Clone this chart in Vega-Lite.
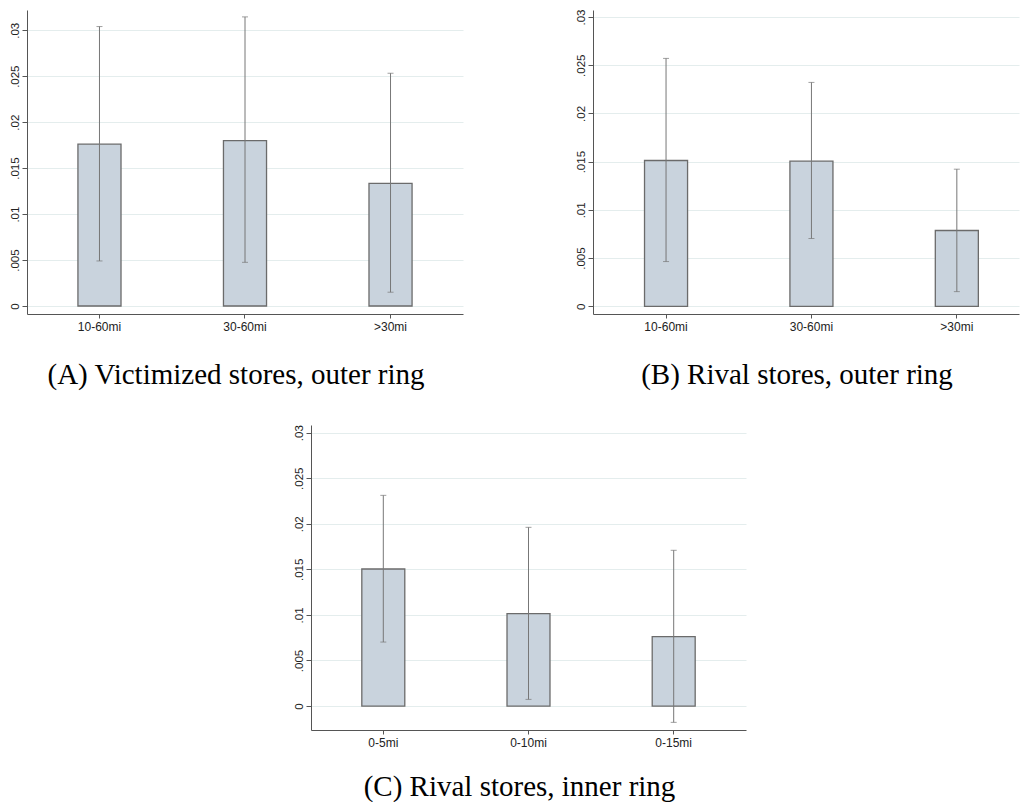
{
  "$schema": "https://vega.github.io/schema/vega-lite/v6.json",
  "padding": {"left": 9, "top": 9, "right": 1, "bottom": 0},
  "background": "white",
  "data": {"values": [
    {"panel": "A", "cat": "10-60mi", "est": 0.0176, "lo": 0.0049, "hi": 0.0304},
    {"panel": "A", "cat": "30-60mi", "est": 0.0180, "lo": 0.00475, "hi": 0.03145},
    {"panel": "A", "cat": ">30mi", "est": 0.01335, "lo": 0.0015, "hi": 0.02532},
    {"panel": "B", "cat": "10-60mi", "est": 0.01512, "lo": 0.00464, "hi": 0.02571},
    {"panel": "B", "cat": "30-60mi", "est": 0.01505, "lo": 0.00703, "hi": 0.02322},
    {"panel": "B", "cat": ">30mi", "est": 0.00786, "lo": 0.00152, "hi": 0.01422},
    {"panel": "C", "cat": "0-5mi", "est": 0.01504, "lo": 0.00702, "hi": 0.02312},
    {"panel": "C", "cat": "0-10mi", "est": 0.01013, "lo": 0.00073, "hi": 0.01961},
    {"panel": "C", "cat": "0-15mi", "est": 0.00761, "lo": -0.00179, "hi": 0.01709}
  ]},
  "config": {
    "view": {"stroke": null},
    "axis": {
      "labelFont": "Liberation Sans",
      "labelColor": "#222222",
      "domainColor": "#555555",
      "tickColor": "#555555",
      "title": null
    },
    "axisX": {"labelFontSize": 12, "tickSize": 4, "labelPadding": 3, "labelAngle": 0, "grid": false},
    "axisY": {
      "labelFontSize": 11.5, "tickSize": 5, "labelPadding": 2,
      "labelAngle": 270, "labelAlign": "center", "labelBaseline": "bottom",
      "grid": true, "gridColor": "#e4eded", "gridWidth": 1,
      "values": [0, 0.005, 0.01, 0.015, 0.02, 0.025, 0.03],
      "labelExpr": "datum.value == 0 ? '0' : slice(format(datum.value, '.3~f'), 1)"
    },
    "title": {"font": "Liberation Serif", "fontSize": 29, "fontWeight": "normal", "color": "#000000", "orient": "bottom", "anchor": "middle", "frame": "bounds", "offset": 29}
  },
  "vconcat": [
    {
      "hconcat": [
        {
          "title": {"text": "(A) Victimized stores, outer ring"},
          "width": 436, "height": 304,
          "transform": [{"filter": "datum.panel === 'A'"}],
          "encoding": {"x": {"field": "cat", "type": "nominal", "sort": null, "scale": {"paddingInner": 0.704, "paddingOuter": 0.35}}},
          "layer": [
            {"mark": {"type": "bar", "fill": "#c9d3dd", "stroke": "#6b6b6b", "strokeWidth": 1.3},
             "encoding": {"y": {"field": "est", "type": "quantitative", "scale": {"domain": [-0.00087, 0.0322], "nice": false, "zero": false}}}},
            {"mark": {"type": "rule", "color": "#777777", "strokeWidth": 1},
             "encoding": {"y": {"field": "lo", "type": "quantitative"}, "y2": {"field": "hi"}}},
            {"mark": {"type": "tick", "color": "#777777", "size": 6, "thickness": 1},
             "encoding": {"y": {"field": "lo", "type": "quantitative"}}},
            {"mark": {"type": "tick", "color": "#777777", "size": 6, "thickness": 1},
             "encoding": {"y": {"field": "hi", "type": "quantitative"}}}
          ]
        },
        {
          "title": {"text": "(B) Rival stores, outer ring"},
          "width": 426, "height": 304,
          "transform": [{"filter": "datum.panel === 'B'"}],
          "encoding": {"x": {"field": "cat", "type": "nominal", "sort": null, "scale": {"paddingInner": 0.704, "paddingOuter": 0.317, "align": 0.559}}},
          "layer": [
            {"mark": {"type": "bar", "fill": "#c9d3dd", "stroke": "#6b6b6b", "strokeWidth": 1.3},
             "encoding": {"y": {"field": "est", "type": "quantitative", "scale": {"domain": [-0.0008, 0.03073], "nice": false, "zero": false}}}},
            {"mark": {"type": "rule", "color": "#777777", "strokeWidth": 1},
             "encoding": {"y": {"field": "lo", "type": "quantitative"}, "y2": {"field": "hi"}}},
            {"mark": {"type": "tick", "color": "#777777", "size": 6, "thickness": 1},
             "encoding": {"y": {"field": "lo", "type": "quantitative"}}},
            {"mark": {"type": "tick", "color": "#777777", "size": 6, "thickness": 1},
             "encoding": {"y": {"field": "hi", "type": "quantitative"}}}
          ]
        }
      ],
      "spacing": 112
    },
    {
      "hconcat": [
        {
          "width": 256, "height": 305,
          "data": {"values": []},
          "mark": {"type": "rule", "opacity": 0},
          "encoding": {}
        },
        {
          "title": {"text": "(C) Rival stores, inner ring", "offset": 25},
          "width": 435, "height": 305,
          "transform": [{"filter": "datum.panel === 'C'"}],
          "encoding": {"x": {"field": "cat", "type": "nominal", "sort": null, "scale": {"paddingInner": 0.704, "paddingOuter": 0.35}}},
          "layer": [
            {"mark": {"type": "bar", "fill": "#c9d3dd", "stroke": "#6b6b6b", "strokeWidth": 1.3},
             "encoding": {"y": {"field": "est", "type": "quantitative", "scale": {"domain": [-0.00263, 0.03084], "nice": false, "zero": false}}}},
            {"mark": {"type": "rule", "color": "#777777", "strokeWidth": 1},
             "encoding": {"y": {"field": "lo", "type": "quantitative"}, "y2": {"field": "hi"}}},
            {"mark": {"type": "tick", "color": "#777777", "size": 6, "thickness": 1},
             "encoding": {"y": {"field": "lo", "type": "quantitative"}}},
            {"mark": {"type": "tick", "color": "#777777", "size": 6, "thickness": 1},
             "encoding": {"y": {"field": "hi", "type": "quantitative"}}}
          ]
        }
      ],
      "spacing": 10
    }
  ],
  "spacing": 34
}
